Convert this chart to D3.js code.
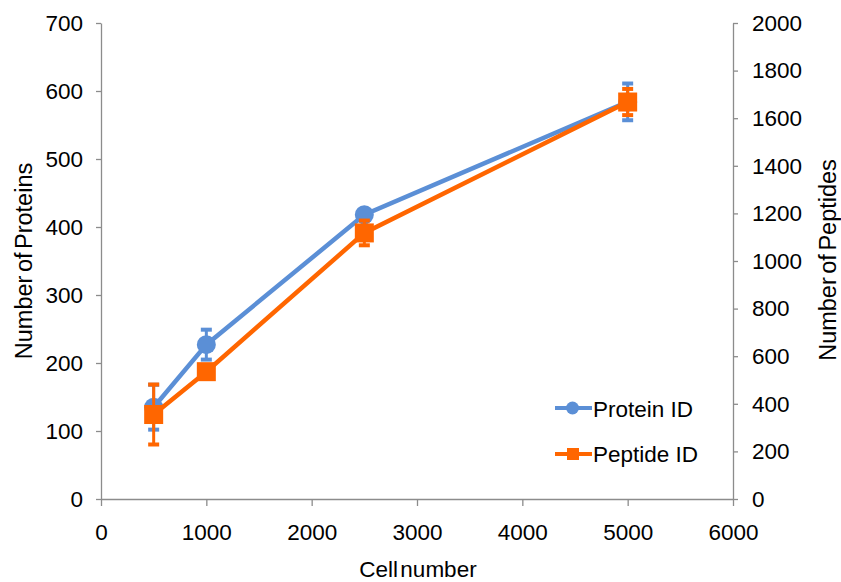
<!DOCTYPE html>
<html>
<head>
<meta charset="utf-8">
<script src="https://cdn.jsdelivr.net/npm/d3@7"></script>
<style>
  body { margin: 0; background: #fff; }
  svg text { font-family: "Liberation Sans", Arial, sans-serif; fill: #000; }
</style>
</head>
<body>
<div id="chart"></div>
<script>
// values
const cellNumbers = [500, 1000, 2500, 5000]
const proteinIds = [135, 227, 418, 584]
const proteinErr = [33, 22, 4, 27]
const peptideIds = [355, 535, 1118, 1668]
const peptideErr = [126, 0, 52, 55]

const xTicks = [0, 1000, 2000, 3000, 4000, 5000, 6000]
const leftTicks = [0, 100, 200, 300, 400, 500, 600, 700]
const rightTicks = [0, 200, 400, 600, 800, 1000, 1200, 1400, 1600, 1800, 2000]

const width = 841
const height = 582
const margin = {top: 23, right: 108, bottom: 83, left: 101}
const fontSize = 22.5

const blue = "#5b8fd6"
const orange = "#ff6600"
const axisGrey = "#8c8c8c"

const svg = d3.select("#chart")
  .append("svg")
  .attr("width", width)
  .attr("height", height)

const x = d3.scaleLinear()
  .domain([0, 6000])
  .range([margin.left, width - margin.right])

const yLeft = d3.scaleLinear()
  .domain([0, 700])
  .range([height - margin.bottom, margin.top])

const yRight = d3.scaleLinear()
  .domain([0, 2000])
  .range([height - margin.bottom, margin.top])

function styleAxis(g) {
  g.selectAll("path, line").attr("stroke", axisGrey).attr("stroke-width", 1.3)
  g.selectAll("text").attr("font-size", fontSize).attr("fill", "#000")
}

svg.append("g")
  .attr("transform", `translate(0,${height - margin.bottom})`)
  .call(d3.axisBottom(x).tickValues(xTicks).tickSize(7).tickSizeOuter(0).tickPadding(18).tickFormat(d3.format("d")))
  .call(styleAxis)

svg.append("g")
  .attr("transform", `translate(${margin.left},0)`)
  .call(d3.axisLeft(yLeft).tickValues(leftTicks).tickSize(5).tickSizeOuter(0).tickPadding(13).tickFormat(d3.format("d")))
  .call(styleAxis)

svg.append("g")
  .attr("transform", `translate(${width - margin.right},0)`)
  .call(d3.axisRight(yRight).tickValues(rightTicks).tickSize(5).tickSizeOuter(0).tickPadding(14).tickFormat(d3.format("d")))
  .call(styleAxis)

// axis titles
svg.append("text")
  .attr("transform", "translate(32,261) rotate(-90)")
  .attr("text-anchor", "middle")
  .attr("font-size", 23.5)
  .attr("word-spacing", -3)
  .text("Number of Proteins")

svg.append("text")
  .attr("transform", "translate(836,260) rotate(-90)")
  .attr("text-anchor", "middle")
  .attr("font-size", 23.5)
  .attr("word-spacing", -3)
  .text("Number of Peptides")

svg.append("text")
  .attr("x", 418)
  .attr("y", 577)
  .attr("text-anchor", "middle")
  .attr("font-size", fontSize)
  .attr("word-spacing", -4)
  .text("Cell number")

const protein = cellNumbers.map((c, i) => ({x: c, y: proteinIds[i], e: proteinErr[i]}))
const peptide = cellNumbers.map((c, i) => ({x: c, y: peptideIds[i], e: peptideErr[i]}))

function drawErrors(data, yScale, color) {
  const g = svg.append("g")
  data.filter(d => d.e > 0).forEach(d => {
    const cx = x(d.x)
    const top = yScale(d.y + d.e)
    const bottom = yScale(d.y - d.e)
    g.append("line")
      .attr("x1", cx).attr("x2", cx)
      .attr("y1", top).attr("y2", bottom)
      .attr("stroke", color).attr("stroke-width", 3)
    ;[top, bottom].forEach(yy => {
      g.append("line")
        .attr("x1", cx - 5.5).attr("x2", cx + 5.5)
        .attr("y1", yy).attr("y2", yy)
        .attr("stroke", color).attr("stroke-width", 4)
    })
  })
}

function drawLine(data, yScale, color) {
  const line = d3.line().x(d => x(d.x)).y(d => yScale(d.y))
  svg.append("path")
    .datum(data)
    .attr("d", line)
    .attr("fill", "none")
    .attr("stroke", color)
    .attr("stroke-width", 4.5)
}

drawErrors(protein, yLeft, blue)
drawLine(protein, yLeft, blue)
svg.append("g").selectAll("circle")
  .data(protein)
  .enter()
  .append("circle")
  .attr("cx", d => x(d.x))
  .attr("cy", d => yLeft(d.y))
  .attr("r", 9.5)
  .attr("fill", blue)

drawErrors(peptide, yRight, orange)
drawLine(peptide, yRight, orange)
svg.append("g").selectAll("rect")
  .data(peptide)
  .enter()
  .append("rect")
  .attr("x", d => x(d.x) - 9.5)
  .attr("y", d => yRight(d.y) - 9.5)
  .attr("width", 19)
  .attr("height", 19)
  .attr("fill", orange)

// legend
const legend = svg.append("g").attr("transform", "translate(555,408)")
legend.append("line").attr("x1", 0).attr("x2", 37).attr("y1", 0).attr("y2", 0)
  .attr("stroke", blue).attr("stroke-width", 4)
legend.append("circle").attr("cx", 17.5).attr("cy", 0).attr("r", 6.5).attr("fill", blue)
legend.append("text").attr("x", 38).attr("y", 8.5).attr("font-size", fontSize).text("Protein ID")

legend.append("line").attr("x1", 0).attr("x2", 37).attr("y1", 46).attr("y2", 46)
  .attr("stroke", orange).attr("stroke-width", 4)
legend.append("rect").attr("x", 12).attr("y", 40).attr("width", 12).attr("height", 12).attr("fill", orange)
legend.append("text").attr("x", 38).attr("y", 54).attr("font-size", fontSize).text("Peptide ID")
</script>
</body>
</html>
